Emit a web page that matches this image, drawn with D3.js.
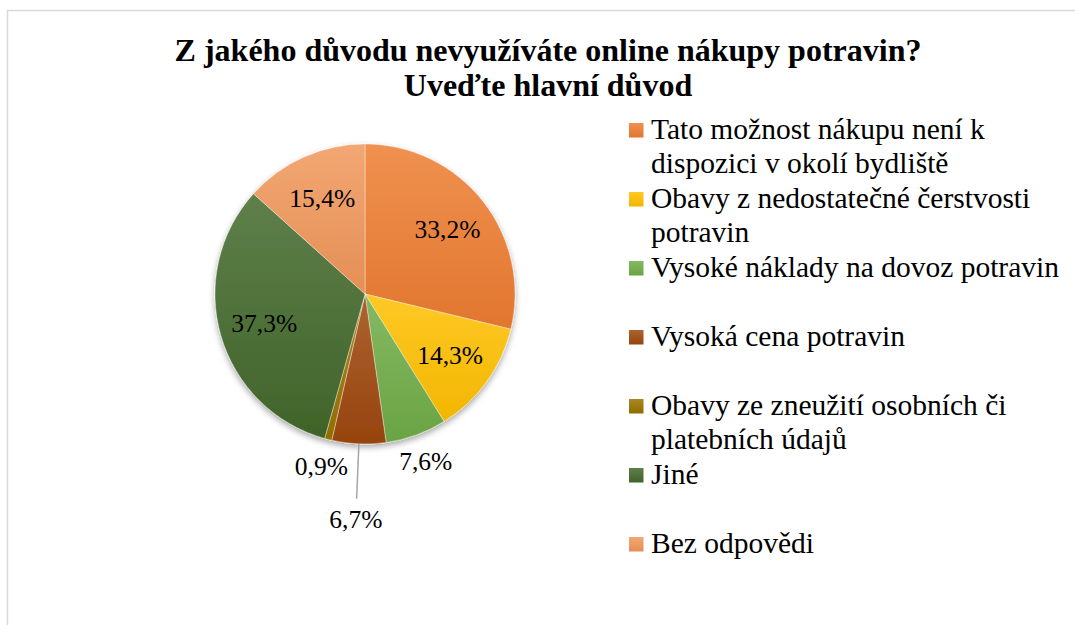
<!DOCTYPE html>
<html>
<head>
<meta charset="utf-8">
<script src="https://cdn.jsdelivr.net/npm/d3@7/dist/d3.min.js"></script>
</head>
<body style="margin:0">
<script>
// Data
const titleLines = ['Z jakého důvodu nevyužíváte online nákupy potravin?', 'Uveďte hlavní důvod']
const categories = [
  'Tato možnost nákupu není k dispozici v okolí bydliště',
  'Obavy z nedostatečné čerstvosti potravin',
  'Vysoké náklady na dovoz potravin',
  'Vysoká cena potravin',
  'Obavy ze zneužití osobních či platebních údajů',
  'Jiné',
  'Bez odpovědi'
]
const values = [33.2, 14.3, 7.6, 6.7, 0.9, 37.3, 15.4]
const colors = ['#ED7D31', '#FFC000', '#70AD47', '#9E480E', '#997300', '#43682B', '#F1975A']

// Dimensions
const width = 1075, height = 625
const cx = 365, cy = 294, R = 150
const font = 'Liberation Serif'

const svg = d3.select('body')
  .append('svg')
  .attr('width', width)
  .attr('height', height)

// chart frame (only top/left edges visible in the crop)
svg.append('rect')
  .attr('x', 7.5).attr('y', 10.5)
  .attr('width', 1200).attr('height', 800)
  .attr('fill', 'none')
  .attr('stroke', '#d9d9d9')
  .attr('stroke-width', 1.5)

// title
titleLines.forEach((t, i) => {
  svg.append('text')
    .attr('x', 548).attr('y', 61 + i * 35)
    .attr('text-anchor', 'middle')
    .attr('font-family', font)
    .attr('font-size', 32)
    .attr('font-weight', 'bold')
    .text(t)
})

const defs = svg.append('defs')

// shadow under the pie
const shadow = defs.append('filter').attr('id', 'shadow')
  .attr('x', '-20%').attr('y', '-20%').attr('width', '140%').attr('height', '140%')
shadow.append('feDropShadow')
  .attr('dx', 0).attr('dy', 3)
  .attr('stdDeviation', 3)
  .attr('flood-color', '#000')
  .attr('flood-opacity', 0.35)

// office-like vertical gradient per slice
colors.forEach((c, i) => {
  const g = defs.append('linearGradient')
    .attr('id', 'grad' + i)
    .attr('x1', 0).attr('y1', 0).attr('x2', 0).attr('y2', 1)
  const top = d3.interpolateRgb(c, '#fff')(0.15)
  const bottom = d3.color(c).darker(0.15)
  g.append('stop').attr('offset', '0%').attr('stop-color', top)
  g.append('stop').attr('offset', '100%').attr('stop-color', bottom)
})

// pie
const pie = d3.pie().sort(null).value(d => d)
const arcs = pie(values)
const arc = d3.arc().innerRadius(0).outerRadius(R)

const g = svg.append('g').attr('transform', `translate(${cx},${cy})`)

g.append('g')
  .attr('filter', 'url(#shadow)')
  .selectAll('path')
  .data(arcs)
  .join('path')
  .attr('d', arc)
  .attr('fill', (d, i) => `url(#grad${i})`)
  .attr('stroke', 'rgba(255,255,255,0.5)')
  .attr('stroke-width', 0.75)

// label placement: big slices inside, small slices outside,
// a small slice squeezed between two small ones is pushed further out with a leader line
const total = d3.sum(values)
const isSmall = v => v / total < 0.1
const labelRadius = arcs.map((d, i) => {
  if (!isSmall(d.value)) return R * 0.7
  const prevSmall = i > 0 && isSmall(values[i - 1])
  const nextSmall = i < values.length - 1 && isSmall(values[i + 1])
  return (prevSmall && nextSmall) ? R + 75 : R + 28
})

const fmt = v => d3.format('.1f')(v).replace('.', ',') + '%'

arcs.forEach((d, i) => {
  const a = (d.startAngle + d.endAngle) / 2
  const r = labelRadius[i]
  const x = Math.sin(a) * r
  const y = -Math.cos(a) * r
  if (r > R + 50) {
    g.append('line')
      .attr('x1', Math.sin(a) * R).attr('y1', -Math.cos(a) * R)
      .attr('x2', Math.sin(a) * (r - 20)).attr('y2', -Math.cos(a) * (r - 20))
      .attr('stroke', '#a6a6a6')
      .attr('stroke-width', 1.5)
  }
  g.append('text')
    .attr('x', x).attr('y', y)
    .attr('dy', '0.35em')
    .attr('text-anchor', 'middle')
    .attr('font-family', font)
    .attr('font-size', 25.5)
    .text(fmt(d.value))
})

// legend
const legend = svg.append('g').attr('transform', 'translate(629,139)')
const maxW = 425
const legendSize = 29.5

const items = legend.selectAll('g')
  .data(categories)
  .join('g')
  .attr('transform', (d, i) => `translate(0,${i * 69})`)

items.append('rect')
  .attr('x', 0).attr('y', -16)
  .attr('width', 14.5).attr('height', 14.5)
  .attr('fill', (d, i) => `url(#grad${i})`)

// wrap legend labels to a max width, one text element per line
items.each(function (d) {
  const item = d3.select(this)
  const words = d.split(' ')
  let line = [], row = 0
  let t = item.append('text')
    .attr('x', 22).attr('y', 0)
    .attr('font-family', font)
    .attr('font-size', legendSize)
  words.forEach(w => {
    line.push(w)
    t.text(line.join(' '))
    if (t.node().getComputedTextLength() > maxW && line.length > 1) {
      line.pop()
      t.text(line.join(' '))
      line = [w]
      row++
      t = item.append('text')
        .attr('x', 22).attr('y', row * 34)
        .attr('font-family', font)
        .attr('font-size', legendSize)
        .text(w)
    }
  })
})
</script>
</body>
</html>
